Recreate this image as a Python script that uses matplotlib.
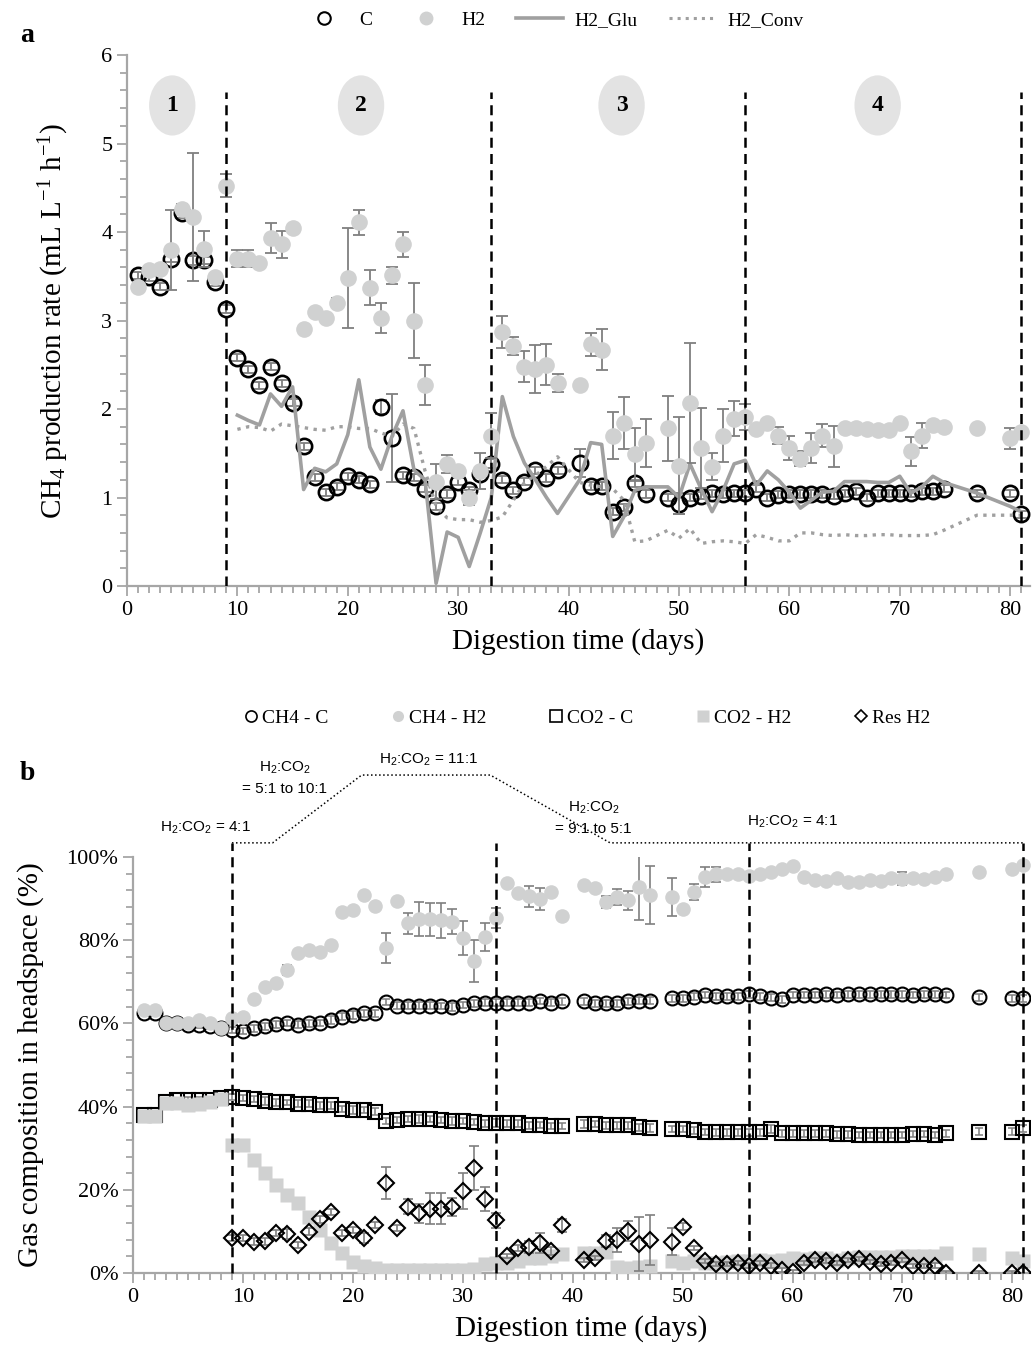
import matplotlib
matplotlib.use('Agg')
import matplotlib.pyplot as plt
from matplotlib.patches import Ellipse
from matplotlib.lines import Line2D
from matplotlib.ticker import MultipleLocator, FuncFormatter

plt.rcParams['font.family'] = ['Liberation Serif', 'DejaVu Serif']
plt.rcParams['mathtext.default'] = 'regular'

# sampling days (C / H2 reactors)
days = list(range(1, 40)) + list(range(41, 48)) + list(range(49, 75)) + [77, 80, 81]
line_days = list(range(10, 40)) + list(range(41, 48)) + list(range(49, 75)) + [77, 80, 81]
res_days = list(range(9, 40)) + list(range(41, 48)) + list(range(49, 75)) + [77, 80, 81]

# panel a: CH4 production rate (mL L-1 h-1)
c_rate = [3.51, 3.49, 3.38, 3.70, 4.21, 3.68, 3.68, 3.43, 3.13, 2.58,
          2.45, 2.27, 2.48, 2.29, 2.07, 1.58, 1.23, 1.06, 1.12, 1.24,
          1.20, 1.15, 2.02, 1.67, 1.25, 1.23, 1.10, 0.90, 1.04, 1.18,
          1.08, 1.27, 1.38, 1.20, 1.08, 1.18, 1.31, 1.22, 1.31,
          1.39, 1.13, 1.13, 0.84, 0.89, 1.16, 1.04,
          1.00, 0.93, 1.00, 1.02, 1.05, 1.04, 1.05, 1.05, 1.10, 1.00,
          1.03, 1.04, 1.04, 1.04, 1.04, 1.02, 1.05, 1.07, 1.00, 1.05,
          1.05, 1.05, 1.05, 1.07, 1.07, 1.10,
          1.05, 1.05, 0.81]
c_err = [0.04, 0.04, 0.04, 0.04, 0.05, 0.05, 0.04, 0.04, 0.04, 0.04,
         0.04, 0.04, 0.04, 0.04, 0.04, 0.04, 0.04, 0.04, 0.04, 0.04,
         0.04, 0.04, 0.08, 0.50, 0.04, 0.04, 0.04, 0.04, 0.04, 0.04,
         0.04, 0.04, 0.05, 0.04, 0.04, 0.04, 0.04, 0.04, 0.04,
         0.16, 0.04, 0.04, 0.04, 0.04, 0.04, 0.04,
         0.04, 0.12, 0.04, 0.04, 0.04, 0.04, 0.04, 0.04, 0.04, 0.04,
         0.04, 0.04, 0.04, 0.04, 0.04, 0.04, 0.04, 0.04, 0.04, 0.04,
         0.04, 0.04, 0.04, 0.04, 0.04, 0.04,
         0.04, 0.04, 0.04]
h2_rate = [3.38, 3.57, 3.58, 3.80, 4.26, 4.17, 3.81, 3.49, 4.52, 3.70,
           3.70, 3.65, 3.93, 3.86, 4.04, 2.90, 3.10, 3.03, 3.20, 3.48,
           4.11, 3.37, 3.03, 3.51, 3.86, 3.00, 2.27, 1.18, 1.38, 1.30,
           1.00, 1.30, 1.70, 2.87, 2.71, 2.48, 2.45, 2.50, 2.29,
           2.27, 2.73, 2.67, 1.70, 1.84, 1.49, 1.62,
           1.78, 1.36, 2.07, 1.56, 1.35, 1.70, 1.89, 1.91, 1.77, 1.84,
           1.70, 1.56, 1.44, 1.56, 1.70, 1.58, 1.78, 1.78, 1.77, 1.76,
           1.76, 1.84, 1.52, 1.70, 1.82, 1.80,
           1.78, 1.67, 1.74]
h2_err = [0.05, 0.03, 0.03, 0.45, 0.06, 0.72, 0.20, 0.03, 0.13, 0.10,
          0.10, 0.03, 0.17, 0.15, 0.03, 0.03, 0.03, 0.03, 0.05, 0.57,
          0.14, 0.20, 0.17, 0.10, 0.14, 0.42, 0.23, 0.20, 0.10, 0.05,
          0.08, 0.20, 0.25, 0.18, 0.10, 0.17, 0.27, 0.23, 0.10,
          0.03, 0.13, 0.23, 0.27, 0.29, 0.30, 0.27,
          0.37, 0.55, 0.68, 0.45, 0.15, 0.30, 0.20, 0.15, 0.03, 0.03,
          0.10, 0.14, 0.08, 0.17, 0.13, 0.23, 0.03, 0.03, 0.03, 0.03,
          0.03, 0.03, 0.16, 0.14, 0.03, 0.03,
          0.00, 0.12, 0.03]
h2_glu = [1.93, 1.87, 1.82, 2.17, 2.03, 2.25, 1.09, 1.33, 1.29, 1.38,
          1.71, 2.33, 1.57, 1.32, 1.69, 1.98, 1.31, 1.20, 0.03, 0.61,
          0.55, 0.22, 0.60, 1.00, 2.14, 1.69, 1.39, 1.20, 1.00, 0.82,
          1.20, 1.62, 1.60, 0.56, 0.78, 1.08, 1.12,
          1.12, 1.00, 1.38, 1.10, 0.84, 1.08, 1.38, 1.42, 1.14, 1.30,
          1.20, 1.06, 0.88, 0.97, 1.06, 1.07, 1.18, 1.18, 1.18, 1.17,
          1.17, 1.24, 1.05, 1.12, 1.24, 1.17,
          1.05, 0.90, 0.84]
h2_conv = [1.77, 1.80, 1.79, 1.75, 1.83, 1.81, 1.79, 1.77, 1.76, 1.80,
           1.80, 1.78, 1.78, 1.73, 1.69, 1.83, 1.78, 1.30, 0.90, 0.77,
           0.75, 0.75, 0.72, 0.74, 0.78, 0.97, 1.17, 1.25, 1.35, 1.46,
           1.17, 1.14, 1.12, 1.10, 0.97, 0.50, 0.51,
           0.63, 0.54, 0.65, 0.48, 0.50, 0.51, 0.50, 0.48, 0.58, 0.55,
           0.51, 0.51, 0.60, 0.60, 0.58, 0.57, 0.58, 0.57, 0.57, 0.58,
           0.58, 0.57, 0.57, 0.57, 0.58, 0.63,
           0.80, 0.80, 0.80]

# panel b: gas composition in headspace (%)
ch4_c = [62.5, 62.5, 60.2, 60.0, 59.6, 59.6, 59.3, 58.8, 58.4, 58.2,
         58.8, 59.3, 59.8, 60.0, 59.7, 60.0, 60.1, 60.8, 61.6, 62.0,
         62.4, 62.4, 65.2, 64.3, 64.3, 64.3, 64.3, 64.2, 64.0, 64.4,
         64.8, 65.0, 65.0, 65.0, 65.0, 65.0, 65.3, 65.0, 65.3,
         65.3, 64.8, 64.8, 64.8, 65.3, 65.5, 65.5,
         66.0, 66.0, 66.4, 66.8, 66.5, 66.5, 66.5, 67.0, 66.5, 66.2,
         65.8, 66.8, 66.8, 66.8, 67.0, 66.8, 67.0, 67.0, 67.0, 67.0,
         67.0, 67.0, 66.8, 67.0, 67.0, 66.8,
         66.3, 66.0, 66.0]
ch4_c_err = [0.6, 0.6, 0.7, 0.6, 0.8, 0.8, 0.7, 0.6, 0.8, 0.7,
             0.8, 0.9, 0.8, 0.7, 0.9, 0.8, 0.8, 0.9, 0.8, 0.9,
             0.8, 0.8, 0.7, 0.8, 0.8, 0.9, 0.8, 0.8, 0.9, 0.8,
             0.8, 0.8, 0.9, 0.8, 0.8, 0.8, 0.7, 0.8, 0.8,
             0.9, 0.8, 0.8, 0.8, 0.8, 0.8, 0.9,
             0.8, 0.8, 0.8, 0.7, 0.8, 0.8, 0.8, 0.8, 0.8, 0.9,
             0.8, 0.8, 0.8, 0.8, 0.8, 0.8, 0.8, 0.8, 0.8, 0.8,
             0.8, 0.8, 0.8, 0.8, 0.8, 0.8,
             0.8, 0.8, 0.8]
ch4_h2 = [63.2, 63.2, 60.1, 60.1, 60.0, 60.8, 60.1, 58.9, 61.3, 61.5,
          65.9, 68.8, 69.7, 72.8, 76.9, 77.6, 77.2, 78.8, 86.8, 87.3,
          90.9, 88.2, 78.1, 89.4, 84.1, 85.1, 85.0, 84.8, 84.4, 80.5,
          75.0, 80.8, 85.3, 93.7, 91.3, 90.6, 89.9, 91.6, 85.8,
          93.3, 92.5, 89.2, 90.4, 89.6, 92.8, 90.9,
          90.4, 87.5, 91.6, 95.2, 95.9, 96.0, 96.0, 95.5, 95.8, 96.5,
          97.0, 97.8, 95.2, 94.5, 94.2, 95.0, 94.0, 94.0, 94.5, 94.3,
          95.0, 94.8, 95.0, 94.8, 95.2, 96.0,
          96.5, 97.2, 98.0]
ch4_h2_err = [0.5, 0.5, 0.5, 0.5, 0.5, 0.5, 0.5, 0.5, 0.6, 0.6,
              0.5, 0.5, 0.5, 1.2, 0.5, 0.5, 0.5, 0.5, 0.5, 0.5,
              0.5, 0.5, 3.7, 0.5, 2.5, 4.0, 4.0, 4.2, 3.0, 4.0,
              5.0, 3.3, 2.4, 0.5, 0.5, 2.5, 2.6, 0.5, 0.5,
              0.5, 0.5, 1.5, 2.0, 2.3, 8.0, 7.0,
              4.6, 0.5, 2.0, 2.3, 1.8, 0.5, 0.5, 0.5, 0.5, 0.5,
              0.5, 0.5, 0.5, 0.5, 0.5, 0.5, 0.5, 0.5, 0.5, 0.5,
              0.5, 1.5, 0.5, 0.5, 0.5, 0.5,
              0.5, 0.5, 0.5]
co2_c = [38.0, 38.0, 41.0, 41.5, 41.5, 41.5, 41.5, 42.0, 42.3, 42.0,
         41.8, 41.3, 41.0, 41.0, 40.7, 40.7, 40.3, 40.3, 39.4, 39.2,
         39.2, 38.8, 36.5, 36.8, 37.0, 37.0, 37.0, 36.8, 36.5, 36.5,
         36.3, 36.0, 36.0, 36.0, 36.0, 35.5, 35.5, 35.3, 35.3,
         35.8, 35.8, 35.5, 35.5, 35.5, 35.0, 34.8,
         34.6, 34.6, 34.3, 33.8, 33.8, 33.8, 33.8, 33.8, 33.8, 34.6,
         33.6, 33.6, 33.6, 33.6, 33.6, 33.3, 33.3, 33.2, 33.2, 33.2,
         33.2, 33.2, 33.4, 33.4, 33.2, 33.6,
         34.0, 34.0, 34.8]
co2_h2 = [37.8, 37.8, 40.8, 40.8, 40.5, 40.6, 41.0, 41.8, 30.8, 30.8,
          27.2, 24.0, 21.2, 18.8, 16.8, 13.5, 10.3, 7.2, 4.8, 2.6,
          1.7, 1.2, 0.8, 0.8, 0.8, 0.8, 0.8, 0.8, 0.8, 0.8,
          0.9, 2.2, 2.3, 2.5, 3.0, 3.5, 3.5, 4.0, 4.5,
          4.8, 4.8, 5.0, 1.5, 1.3, 1.5, 1.8,
          2.8, 2.5, 3.0, 2.5, 2.5, 2.6, 2.8, 3.0, 3.2, 3.0,
          3.2, 3.5, 3.4, 3.5, 3.6, 3.2, 3.5, 3.8, 3.8, 3.9,
          3.9, 4.0, 4.0, 4.0, 4.0, 4.8,
          4.5, 3.5, 3.0]
res_h2 = [8.4, 8.4, 7.5, 7.6, 9.6, 9.3, 6.7, 9.9, 12.9, 14.7,
          9.6, 10.3, 8.4, 11.5, 21.6, 10.8, 15.9, 14.4, 15.5, 15.5,
          15.9, 19.7, 25.2, 17.8, 12.7, 4.1, 6.0, 6.2, 7.2, 5.3, 11.5,
          3.1, 3.7, 7.7, 7.9, 10.1, 7.0, 7.9,
          7.5, 11.1, 6.0, 2.9, 2.2, 2.2, 2.4, 1.8, 2.4, 1.8,
          0.8, 0.2, 2.4, 3.1, 3.0, 2.5, 3.1, 3.3, 2.7, 2.2,
          2.4, 3.2, 1.6, 1.6, 1.8, 0.1,
          0.1, 0.1, 0.1]
res_err = [0.8, 0.8, 0.8, 0.8, 0.8, 1.2, 0.8, 0.8, 0.8, 0.8,
           0.8, 0.8, 1.2, 0.8, 3.8, 0.8, 1.8, 2.3, 3.8, 3.7,
           2.2, 4.4, 5.3, 2.8, 1.8, 0.5, 0.8, 1.5, 2.5, 1.0, 1.6,
           0.5, 0.5, 1.5, 2.9, 2.4, 6.5, 6.0,
           3.2, 0.8, 0.5, 0.5, 0.5, 0.5, 0.5, 0.5, 0.5, 0.5,
           0.5, 0.5, 0.5, 0.5, 0.5, 0.5, 0.5, 0.5, 0.5, 0.5,
           0.5, 0.5, 0.5, 0.5, 0.5, 0.5,
           0.3, 0.3, 1.0]

phase_days = [9, 33, 56, 81]
phase_labels = ['1', '2', '3', '4']
phase_centers = [4.1, 21.2, 44.8, 68.0]

ratio_x = [9, 12.7, 20.8, 32.5, 43.4, 81]
ratio_y = [103.4, 103.4, 119.7, 119.7, 103.4, 103.4]

grey_axis = '#a6a6a6'
grey_mark = '#d0d1d1'
grey_err = '#7f7f7f'
grey_line = '#a0a0a0'

W, H = 1033, 1371
fig = plt.figure(figsize=(W / 100, H / 100), dpi=100)
ax1 = fig.add_axes([127 / W, 1 - 586 / H, (1030 - 127) / W, (586 - 55) / H])
ax2 = fig.add_axes([133 / W, 1 - 1273 / H, (1030 - 133) / W, (1273 - 857) / H])


def style_axis(ax):
    ax.spines[['top', 'right']].set_visible(False)
    for s in ['left', 'bottom']:
        ax.spines[s].set_color(grey_axis)
        ax.spines[s].set_linewidth(1.6)
    ax.xaxis.set_major_locator(MultipleLocator(10))
    ax.xaxis.set_minor_locator(MultipleLocator(1))
    ax.tick_params(which='both', direction='out', color=grey_axis, width=1.3, labelsize=16)
    ax.tick_params(which='major', length=7)
    ax.tick_params(which='minor', length=5)


# ---- panel a ----
ax1.errorbar(days, c_rate, yerr=c_err, fmt='none', ecolor=grey_err, elinewidth=1.3,
             capsize=4, capthick=1.3, zorder=2)
ax1.plot(days, c_rate, 'o', ms=11, mfc='none', mec='black', mew=1.9, zorder=3)
ax1.plot(line_days, h2_glu, '-', color=grey_line, lw=2.6, zorder=4)
ax1.plot(line_days, h2_conv, ':', color=grey_line, lw=2.4, zorder=4)
ax1.errorbar(days, h2_rate, yerr=h2_err, fmt='none', ecolor=grey_err, elinewidth=1.3,
             capsize=4, capthick=1.3, zorder=5)
ax1.plot(days, h2_rate, 'o', ms=12, mfc=grey_mark, mec='none', zorder=6)
ax1.vlines(phase_days, 0, 5.58, colors='black', linestyles=(0, (4, 2.5)), lw=1.8, zorder=8)
for cx, lab in zip(phase_centers, phase_labels):
    ax1.add_patch(Ellipse((cx, 5.43), width=4.2, height=0.68, facecolor='#e3e3e3',
                          edgecolor='none', zorder=1))
    ax1.text(cx, 5.43, lab, ha='center', va='center', fontsize=17, fontweight='bold', zorder=2)

ax1.set_xlim(0, 81.8)
ax1.set_ylim(0, 6)
ax1.yaxis.set_major_locator(MultipleLocator(1))
ax1.yaxis.set_minor_locator(MultipleLocator(0.2))
style_axis(ax1)
ax1.set_xlabel('Digestion time (days)', fontsize=21, labelpad=6)
ax1.set_ylabel('CH$_4$ production rate (mL L$^{-1}$ h$^{-1}$)', fontsize=21, labelpad=22)

# ---- panel b ----
ax2.errorbar(days, ch4_c, yerr=ch4_c_err, fmt='none', ecolor=grey_err, elinewidth=1.1,
             capsize=3, capthick=1.1, zorder=2)
ax2.plot(days, ch4_c, 'o', ms=10, mfc='none', mec='black', mew=1.5, zorder=3)
ax2.errorbar(days, ch4_h2, yerr=ch4_h2_err, fmt='none', ecolor=grey_err, elinewidth=1.2,
             capsize=3.5, capthick=1.2, zorder=4)
ax2.plot(days, ch4_h2, 'o', ms=10.5, mfc=grey_mark, mec='none', zorder=5)
ax2.errorbar(days, co2_c, yerr=ch4_c_err, fmt='none', ecolor=grey_err, elinewidth=1.1,
             capsize=3, capthick=1.1, zorder=2)
ax2.plot(days, co2_c, 's', ms=9.5, mfc='none', mec='black', mew=1.5, zorder=3)
ax2.plot(days, co2_h2, 's', ms=10.5, mfc=grey_mark, mec='none', zorder=5)
ax2.errorbar(res_days, res_h2, yerr=res_err, fmt='none', ecolor=grey_err, elinewidth=1.2,
             capsize=3.5, capthick=1.2, zorder=6)
ax2.plot(res_days, res_h2, 'D', ms=8.5, mfc='none', mec='black', mew=1.5, zorder=7)
ax2.vlines(phase_days, 0, 103.4, colors='black', linestyles=(0, (4, 2.5)), lw=1.8,
           zorder=8, clip_on=False)
ax2.plot(ratio_x, ratio_y, ':', color='black', lw=1.1, clip_on=False)

ax2.set_xlim(0, 81.6)
ax2.set_ylim(0, 100)
ax2.yaxis.set_major_locator(MultipleLocator(20))
ax2.yaxis.set_minor_locator(MultipleLocator(4))
ax2.yaxis.set_major_formatter(FuncFormatter(lambda v, p: f'{v:.0f}%'))
style_axis(ax2)
ax2.set_xlabel('Digestion time (days)', fontsize=21, labelpad=6)
ax2.set_ylabel('Gas composition in headspace (%)', fontsize=21, labelpad=16)

nfont = ['Liberation Sans Narrow', 'Liberation Sans', 'DejaVu Sans']
ax2.text(6.6, 107, 'H$_2$:CO$_2$ = 4:1', ha='center', va='center', fontsize=11,
         family=nfont, clip_on=False)
ax2.text(13.8, 119, 'H$_2$:CO$_2$\n= 5:1 to 10:1', ha='center', va='center', fontsize=11,
         family=nfont, linespacing=1.6, clip_on=False)
ax2.text(26.9, 123.3, 'H$_2$:CO$_2$ = 11:1', ha='center', va='center', fontsize=11,
         family=nfont, clip_on=False)
ax2.text(41.9, 109.4, 'H$_2$:CO$_2$\n= 9:1 to 5:1', ha='center', va='center', fontsize=11,
         family=nfont, linespacing=1.6, clip_on=False)
ax2.text(60, 108.4, 'H$_2$:CO$_2$ = 4:1', ha='center', va='center', fontsize=11,
         family=nfont, clip_on=False)

# panel labels
fig.text(20 / W, 1 - 35 / H, 'a', fontsize=20, fontweight='bold', va='center')
fig.text(20 / W, 1 - 773 / H, 'b', fontsize=20, fontweight='bold', va='center')

# legends
leg_a = [Line2D([], [], marker='o', ls='none', ms=9, mfc='none', mec='black', mew=1.5),
         Line2D([], [], marker='o', ls='none', ms=10, mfc=grey_mark, mec='none'),
         Line2D([], [], ls='-', color=grey_line, lw=2.6),
         Line2D([], [], ls=':', color=grey_line, lw=2.2)]
fig.legend(leg_a, ['C', 'H2', 'H2_Glu', 'H2_Conv'], loc='center',
           bbox_to_anchor=(552 / W, 1 - 20 / H), ncol=4, frameon=False, fontsize=14,
           handlelength=2.4, columnspacing=1.6, handletextpad=0.6)

leg_b = [Line2D([], [], marker='o', ls='none', ms=8, mfc='none', mec='black', mew=1.2),
         Line2D([], [], marker='o', ls='none', ms=8, mfc=grey_mark, mec='none'),
         Line2D([], [], marker='s', ls='none', ms=8, mfc='none', mec='black', mew=1.2),
         Line2D([], [], marker='s', ls='none', ms=8, mfc=grey_mark, mec='none'),
         Line2D([], [], marker='D', ls='none', ms=6.5, mfc='none', mec='black', mew=1.2)]
fig.legend(leg_b, ['CH4 - C', 'CH4 - H2', 'CO2 - C', 'CO2 - H2', 'Res H2'], loc='center',
           bbox_to_anchor=(587 / W, 1 - 718 / H), ncol=5, frameon=False, fontsize=14,
           handlelength=0.8, columnspacing=3.2, handletextpad=0.15)

fig.savefig('out.png', dpi=100)
